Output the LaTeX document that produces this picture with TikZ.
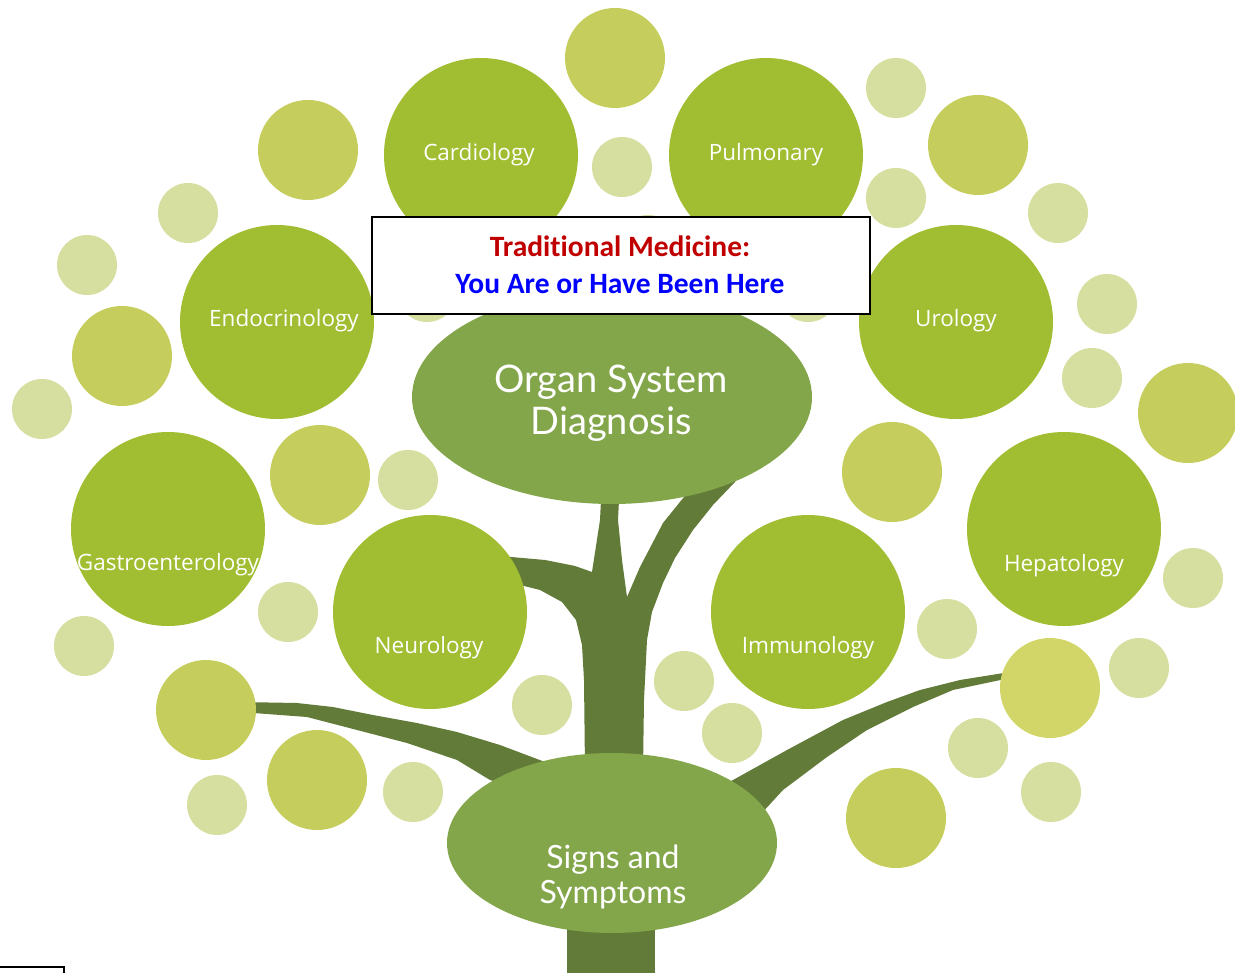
\documentclass[tikz,border=0pt]{standalone}
\usepackage{fontspec}
\newfontfamily\lblfont{Open Sans}
\newfontfamily\boxfont[Ligatures=NoCommon]{Carlito}
\newfontfamily\ellfont{Lato}
\definecolor{bigc}{RGB}{161,189,49}
\definecolor{medc}{RGB}{197,206,92}
\definecolor{lightc}{RGB}{214,222,160}
\definecolor{yelc}{RGB}{210,214,105}
\definecolor{ellc}{RGB}{130,166,73}
\definecolor{trunkc}{RGB}{99,123,56}
\definecolor{redt}{RGB}{192,0,0}
\definecolor{bluet}{RGB}{0,0,255}
\tikzset{
  bigcirc/.style={circle,fill=bigc,minimum size=194pt,inner sep=0pt},
  medcirc/.style={circle,fill=medc,minimum size=100pt,inner sep=0pt},
  lightcirc/.style={circle,fill=lightc,minimum size=60pt,inner sep=0pt},
  yelcirc/.style={circle,fill=yelc,minimum size=100pt,inner sep=0pt},
  ellnode/.style={ellipse,fill=ellc,inner sep=0pt},
  lbl/.style={font=\lblfont\fontsize{22.5}{27}\selectfont,text=white,inner sep=0pt},
  elltext/.style={font=\ellfont\fontsize{38}{42}\selectfont,text=white,align=center,inner sep=0pt},
  wood/.style={fill=trunkc,draw=none},
}
\usetikzlibrary{shapes.geometric}
\begin{document}
\begin{tikzpicture}[x=1pt,y=-1pt]
\useasboundingbox (0,0) rectangle (1235,973);
% trunk and branches
\fill[wood] (585,770) -- (584,680) -- (582,645) -- (576,620) -- (562,602) -- (540,590) -- (500,580) -- (500,556) -- (545,560) -- (575,566) -- (592,572) -- (600,520) -- (602,480) -- (620,480) -- (618,520) -- (622,560) -- (627,597) -- (640,567) -- (663,523) -- (688,492) -- (712,470) -- (745,465) -- (735,482) -- (713,505) -- (693,530) -- (675,558) -- (663,583) -- (652,612) -- (647,640) -- (644,700) -- (643,770) -- cycle;
\fill[wood] (240,702) -- (297,703) -- (333,707) -- (373,715) -- (417,723) -- (457,732) -- (500,745) -- (545,762) -- (560,800) -- (490,780) -- (457,760) -- (407,743) -- (357,730) -- (307,717) -- (240,712) -- cycle;
\fill[wood] (1010,672) -- (960,680) -- (920,690) -- (887,702) -- (843,720) -- (787,750) -- (733,780) -- (700,800) -- (760,815) -- (783,790) -- (827,757) -- (867,730) -- (913,707) -- (953,690) -- (1010,678) -- cycle;
\fill[wood] (567,900) rectangle (655,973);
% light circles
\foreach \p [count=\i] in {(622,167),(896,88),(896,198),(188,213),(87,265),(1058,213),(1107,304),(1092,378),(42,409),(408,480),(288,612),(84,646),(947,629),(1193,578),(1139,668),(542,705),(684,681),(732,733),(978,748),(1051,792),(217,805),(413,792),(648,245),(427,292),(808,292)}
  \node[lightcirc] (l\i) at \p {};
% medium circles
\foreach \p [count=\i] in {(615,58),(308,150),(978,145),(122,356),(1188,413),(320,475),(892,472),(206,710),(317,780),(896,818)}
  \node[medcirc] (m\i) at \p {};
\node[yelcirc] (y1) at (1050,688) {};
% big circles
\node[bigcirc] (cardio) at (481,155) {};
\node[bigcirc] (pulmo) at (766,155) {};
\node[bigcirc] (endo) at (277,322) {};
\node[bigcirc] (uro) at (956,322) {};
\node[bigcirc] (gastro) at (168,529) {};
\node[bigcirc] (hepa) at (1064,529) {};
\node[bigcirc] (neuro) at (430,612) {};
\node[bigcirc] (immuno) at (808,612) {};
\node[lbl] (tcardio) at (479,155) {Cardiology};
\node[lbl] (tpulmo) at (766,155) {Pulmonary};
\node[lbl] (tendo) at (284,321) {Endocrinology};
\node[lbl] (turo) at (956,321) {Urology};
\node[lbl] (tgastro) at (168,565) {Gastroenterology};
\node[lbl] (thepa) at (1064,566) {Hepatology};
\node[lbl] (tneuro) at (429,648) {Neurology};
\node[lbl] (timmuno) at (808,648) {Immunology};
% ellipses
\node[ellnode,minimum width=400pt,minimum height=214pt] (organ) at (612,397) {};
\node[elltext] (torgan) at (611,403) {Organ System\\Diagnosis};
\node[ellnode,minimum width=330pt,minimum height=180pt] (signs) at (612,843) {};
\node[elltext,font=\ellfont\fontsize{32}{35}\selectfont] (tsigns) at (613,877) {Signs and\\Symptoms};
% box
\node[draw=black,line width=2pt,fill=white,minimum width=498pt,minimum height=97pt,inner sep=0pt] (box) at (620.5,266) {};
\node[font=\boxfont\bfseries\fontsize{29.5}{37}\selectfont,align=center,inner sep=0pt] (tbox) at (620,265) {\textcolor{redt}{Traditional Medicine:}\\\textcolor{bluet}{You Are or Have Been Here}};
% fragment bottom-left
\coordinate (f1) at (0,967);
\coordinate (f2) at (64,967);
\coordinate (f3) at (64,973);
\draw[line width=1.5pt] (f1) -- (f2) -- (f3);
\end{tikzpicture}
\end{document}
